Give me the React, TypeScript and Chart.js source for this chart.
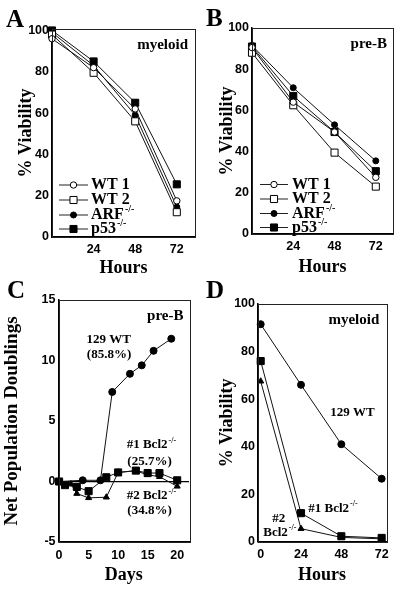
import React, { useEffect, useRef } from 'react';
import { Chart, registerables } from 'chart.js';

Chart.register(...registerables);

// ---------- data ----------
const hoursAB = [0, 24, 48, 72];
const aWT1 = [96, 82, 62, 17.5];
const aWT2 = [98, 79.5, 56, 12];
const aARF = [99, 83, 59, 14.5];
const aP53 = [100, 85, 65, 25.5];

const bWT1 = [90.5, 64, 49.5, 27.5];
const bWT2 = [88, 62.5, 39.5, 23];
const bARF = [91.5, 71, 53, 35.5];
const bP53 = [91, 67, 49.5, 30.5];

const cWTDays = [0, 4, 7, 9, 12, 14, 16, 19];
const cWT = [0, 0.1, 0.1, 7.4, 8.9, 9.6, 10.8, 11.8];
const c1Days = [0, 1, 3, 5, 8, 10, 13, 15, 17, 20];
const c1 = [0, -0.3, -0.45, -0.8, 0.35, 0.75, 0.9, 0.7, 0.7, 0.1];
const c2Days = [0, 2, 3, 5, 8, 10, 13, 15, 17, 20];
const c2 = [0, -0.2, -1.0, -1.35, -1.3, 0.75, 0.88, 0.55, 0.4, -0.4];

const hoursD = [0, 24, 48, 72];
const dWT = [91.5, 66, 41, 26.5];
const d1 = [76, 12, 2.3, 1.6];
const d2 = [67.5, 5.5, 1.8, 1.2];

const xTicksAB = [24, 48, 72];
const yTicksViability = [0, 20, 40, 60, 80, 100];
const xTicksC = [0, 5, 10, 15, 20];
const yTicksC = [-5, 0, 5, 10, 15];
const xTicksD = [0, 24, 48, 72];

const legendNames = ['WT 1', 'WT 2', 'ARF', 'p53'];
const legendSups = ['', '', '-/-', '-/-'];

// ---------- styling ----------
const SERIF = "'Liberation Serif','Times New Roman',Times,serif";
const SANS = "'Liberation Sans',Arial,Helvetica,sans-serif";

type Series = { xs: number[]; ys: number[]; style: string; filled: boolean; radius: number };
type Note = { text: string; sup?: string; x: number; y: number; align: 'left' | 'center' | 'right'; size: number };
type Legend = { x1: number; x2: number; mx: number; tx: number; rows: number[]; size: number };
type Spec = {
  series: Series[];
  xMin: number; xMax: number; yMin: number; yMax: number;
  xTicks: number[]; yTicks: number[];
  pad: { left: number; top: number; right: number; bottom: number };
  yWidth: number; xHeight: number;
  yTitle: string; yTitleSize: number; yTitlePad: number;
  xTitle: string; xTitleSize: number; xTitlePad: number;
  yTickPad: number; xTickPad: number;
  zeroLine?: boolean;
  notes: Note[];
  legend?: Legend;
};

function drawMarker(ctx: CanvasRenderingContext2D, style: string, x: number, y: number, r: number, filled: boolean) {
  ctx.beginPath();
  if (style === 'circle') {
    ctx.arc(x, y, r, 0, Math.PI * 2);
  } else if (style === 'rect') {
    const s = r * Math.SQRT1_2;
    ctx.rect(x - s, y - s, 2 * s, 2 * s);
  } else {
    const h = r * 1.5;
    ctx.moveTo(x, y - r);
    ctx.lineTo(x + h * 0.58, y + r * 0.5);
    ctx.lineTo(x - h * 0.58, y + r * 0.5);
    ctx.closePath();
  }
  ctx.fillStyle = filled ? '#000' : '#fff';
  ctx.fill();
  ctx.lineWidth = 1;
  ctx.strokeStyle = '#000';
  ctx.stroke();
}

function drawNote(ctx: CanvasRenderingContext2D, n: Note) {
  const supSize = Math.round(n.size * 0.62);
  ctx.font = `bold ${n.size}px ${SERIF}`;
  const mainW = ctx.measureText(n.text).width;
  ctx.font = `bold ${supSize}px ${SERIF}`;
  const supW = n.sup ? ctx.measureText(n.sup).width + 1 : 0;
  const total = mainW + supW;
  const x0 = n.align === 'left' ? n.x : n.align === 'center' ? n.x - total / 2 : n.x - total;
  ctx.textAlign = 'left';
  ctx.textBaseline = 'middle';
  ctx.fillStyle = '#000';
  ctx.font = `bold ${n.size}px ${SERIF}`;
  ctx.fillText(n.text, x0, n.y);
  if (n.sup) {
    ctx.font = `bold ${supSize}px ${SERIF}`;
    ctx.fillText(n.sup, x0 + mainW + 1, n.y - n.size * 0.33);
  }
}

function makeDecor(spec: Spec) {
  return {
    id: 'decor',
    afterDraw(chart: any) {
      const ctx: CanvasRenderingContext2D = chart.ctx;
      const ca = chart.chartArea;
      ctx.save();
      ctx.strokeStyle = '#222';
      ctx.lineWidth = 1;
      ctx.strokeRect(Math.round(ca.left) + 0.5, Math.round(ca.top) + 0.5, Math.round(ca.right - ca.left), Math.round(ca.bottom - ca.top));
      if (spec.legend) {
        const lg = spec.legend;
        lg.rows.forEach((ry, i) => {
          const s = spec.series[i];
          ctx.beginPath();
          ctx.moveTo(lg.x1, ry);
          ctx.lineTo(lg.x2, ry);
          ctx.strokeStyle = '#222';
          ctx.lineWidth = 1;
          ctx.stroke();
          drawMarker(ctx, s.style, lg.mx, ry, s.radius, s.filled);
          drawNote(ctx, { text: legendNames[i], sup: legendSups[i] || undefined, x: lg.tx, y: ry, align: 'left', size: lg.size });
        });
      }
      spec.notes.forEach((n) => drawNote(ctx, n));
      ctx.restore();
    },
  };
}

function buildConfig(spec: Spec): any {
  return {
    type: 'scatter',
    data: {
      datasets: spec.series.map((s) => ({
        data: s.xs.map((x, i) => ({ x, y: s.ys[i] })),
        showLine: true,
        borderColor: '#111',
        borderWidth: 1,
        pointStyle: s.style,
        pointRadius: s.radius,
        pointBorderColor: '#000',
        pointBorderWidth: 1,
        pointBackgroundColor: s.filled ? '#000' : '#fff',
        backgroundColor: s.filled ? '#000' : '#fff',
        clip: false,
      })),
    },
    options: {
      animation: false,
      responsive: false,
      events: [],
      layout: { padding: spec.pad },
      plugins: { legend: { display: false }, tooltip: { enabled: false } },
      scales: {
        x: {
          type: 'linear',
          min: spec.xMin,
          max: spec.xMax,
          afterFit: (sc: any) => { sc.height = spec.xHeight; },
          afterBuildTicks: (sc: any) => { sc.ticks = spec.xTicks.map((v) => ({ value: v })); },
          grid: { display: false, drawTicks: false },
          border: { display: true, color: '#000', width: 1.5 },
          ticks: {
            color: '#000',
            font: { family: SANS, weight: 'bold', size: 12.5 },
            padding: spec.xTickPad,
            maxRotation: 0,
            autoSkip: false,
            callback: (v: any) => String(v),
          },
          title: {
            display: true,
            text: spec.xTitle,
            color: '#000',
            font: { family: SERIF, weight: 'bold', size: spec.xTitleSize },
            padding: { top: 0, bottom: spec.xTitlePad },
          },
        },
        y: {
          type: 'linear',
          min: spec.yMin,
          max: spec.yMax,
          afterFit: (sc: any) => { sc.width = spec.yWidth; },
          afterBuildTicks: (sc: any) => { sc.ticks = spec.yTicks.map((v) => ({ value: v })); },
          grid: spec.zeroLine
            ? {
                display: true,
                drawTicks: false,
                drawOnChartArea: true,
                lineWidth: 1.2,
                color: (c: any) => (c.tick && c.tick.value === 0 ? '#000' : 'rgba(0,0,0,0)'),
              }
            : { display: false, drawTicks: false },
          border: { display: true, color: '#000', width: 1.5 },
          ticks: {
            color: '#000',
            font: { family: SANS, weight: 'bold', size: 12.5 },
            padding: spec.yTickPad,
            autoSkip: false,
            callback: (v: any) => String(v),
          },
          title: {
            display: true,
            text: spec.yTitle,
            color: '#000',
            font: { family: SERIF, weight: 'bold', size: spec.yTitleSize },
            padding: { top: spec.yTitlePad, bottom: 0 },
          },
        },
      },
    },
    plugins: [makeDecor(spec)],
  };
}

const specA: Spec = {
  series: [
    { xs: hoursAB, ys: aWT1, style: 'circle', filled: false, radius: 3.2 },
    { xs: hoursAB, ys: aWT2, style: 'rect', filled: false, radius: 5 },
    { xs: hoursAB, ys: aARF, style: 'circle', filled: true, radius: 3 },
    { xs: hoursAB, ys: aP53, style: 'rect', filled: true, radius: 5 },
  ],
  xMin: 0, xMax: 82.5, yMin: 0, yMax: 100.7,
  xTicks: xTicksAB, yTicks: yTicksViability,
  pad: { left: 0, top: 29, right: 207, bottom: 308 },
  yWidth: 52, xHeight: 45,
  yTitle: '% Viability', yTitleSize: 18, yTitlePad: 16,
  xTitle: 'Hours', xTitleSize: 18, xTitlePad: 3,
  yTickPad: 3, xTickPad: 5,
  notes: [
    { text: 'A', x: 6, y: 21, align: 'left', size: 25 },
    { text: 'myeloid', x: 188, y: 45, align: 'right', size: 15 },
  ],
  legend: { x1: 59, x2: 88, mx: 73.5, tx: 91, rows: [185, 200, 215, 229], size: 16 },
};

const specB: Spec = {
  series: [
    { xs: hoursAB, ys: bWT1, style: 'circle', filled: false, radius: 3.2 },
    { xs: hoursAB, ys: bWT2, style: 'rect', filled: false, radius: 5 },
    { xs: hoursAB, ys: bARF, style: 'circle', filled: true, radius: 3 },
    { xs: hoursAB, ys: bP53, style: 'rect', filled: true, radius: 5 },
  ],
  xMin: 0, xMax: 82, yMin: 0, yMax: 100,
  xTicks: xTicksAB, yTicks: yTicksViability,
  pad: { left: 201, top: 28, right: 9, bottom: 311 },
  yWidth: 51, xHeight: 45,
  yTitle: '% Viability', yTitleSize: 18, yTitlePad: 16,
  xTitle: 'Hours', xTitleSize: 18, xTitlePad: 1,
  yTickPad: 3, xTickPad: 5,
  notes: [
    { text: 'B', x: 206, y: 20, align: 'left', size: 25 },
    { text: 'pre-B', x: 387, y: 44, align: 'right', size: 15 },
  ],
  legend: { x1: 260, x2: 288, mx: 274, tx: 292, rows: [184.5, 199, 213.5, 227.5], size: 16 },
};

const specC: Spec = {
  series: [
    { xs: cWTDays, ys: cWT, style: 'circle', filled: true, radius: 3.5 },
    { xs: c1Days, ys: c1, style: 'rect', filled: true, radius: 5 },
    { xs: c2Days, ys: c2, style: 'triangle', filled: true, radius: 3.5 },
  ],
  xMin: -0.1, xMax: 22, yMin: -5, yMax: 15,
  xTicks: xTicksC, yTicks: yTicksC,
  pad: { left: 0, top: 300, right: 213, bottom: 3 },
  yWidth: 58.5, xHeight: 45,
  yTitle: 'Net Population Doublings', yTitleSize: 19, yTitlePad: 1,
  xTitle: 'Days', xTitleSize: 18, xTitlePad: 1,
  yTickPad: 3, xTickPad: 6,
  zeroLine: true,
  notes: [
    { text: 'C', x: 7, y: 292, align: 'left', size: 25 },
    { text: 'pre-B', x: 183.5, y: 316, align: 'right', size: 15 },
    { text: '129 WT', x: 108.7, y: 340, align: 'center', size: 13 },
    { text: '(85.8%)', x: 109, y: 355, align: 'center', size: 13 },
    { text: '#1 Bcl2', sup: '-/-', x: 126.7, y: 445, align: 'left', size: 13 },
    { text: '(25.7%)', x: 149.5, y: 461.5, align: 'center', size: 13 },
    { text: '#2 Bcl2', sup: '-/-', x: 126.7, y: 496, align: 'left', size: 13 },
    { text: '(34.8%)', x: 149.5, y: 511, align: 'center', size: 13 },
  ],
};

const specD: Spec = {
  series: [
    { xs: hoursD, ys: dWT, style: 'circle', filled: true, radius: 3.5 },
    { xs: hoursD, ys: d1, style: 'rect', filled: true, radius: 5 },
    { xs: hoursD, ys: d2, style: 'triangle', filled: true, radius: 3.5 },
  ],
  xMin: -1.9, xMax: 75, yMin: 0, yMax: 100,
  xTicks: xTicksD, yTicks: yTicksViability,
  pad: { left: 201, top: 304, right: 15.3, bottom: 3.3 },
  yWidth: 56.5, xHeight: 45,
  yTitle: '% Viability', yTitleSize: 18, yTitlePad: 16,
  xTitle: 'Hours', xTitleSize: 18, xTitlePad: 1,
  yTickPad: 2.5, xTickPad: 5.5,
  notes: [
    { text: 'D', x: 206, y: 292, align: 'left', size: 25 },
    { text: 'myeloid', x: 379.3, y: 320, align: 'right', size: 15 },
    { text: '129 WT', x: 352.5, y: 412.3, align: 'center', size: 13 },
    { text: '#1 Bcl2', sup: '-/-', x: 308.3, y: 508.3, align: 'left', size: 13 },
    { text: '#2', x: 272.3, y: 518.3, align: 'left', size: 13 },
    { text: 'Bcl2', sup: '-/-', x: 263.3, y: 532.3, align: 'left', size: 13 },
  ],
};

const panels: Spec[] = [specA, specB, specC, specD];

function Panel({ spec }: { spec: Spec }) {
  const ref = useRef<HTMLCanvasElement>(null);
  useEffect(() => {
    const chart = new Chart(ref.current as HTMLCanvasElement, buildConfig(spec));
    return () => chart.destroy();
  }, [spec]);
  return (
    <canvas
      ref={ref}
      width={402}
      height={590}
      style={{ position: 'absolute', left: 0, top: 0, width: 402, height: 590 }}
    />
  );
}

export default function App() {
  return (
    <div style={{ position: 'absolute', left: 0, top: 0, width: 402, height: 590, background: '#fff' }}>
      {panels.map((p, i) => (
        <Panel key={i} spec={p} />
      ))}
    </div>
  );
}
